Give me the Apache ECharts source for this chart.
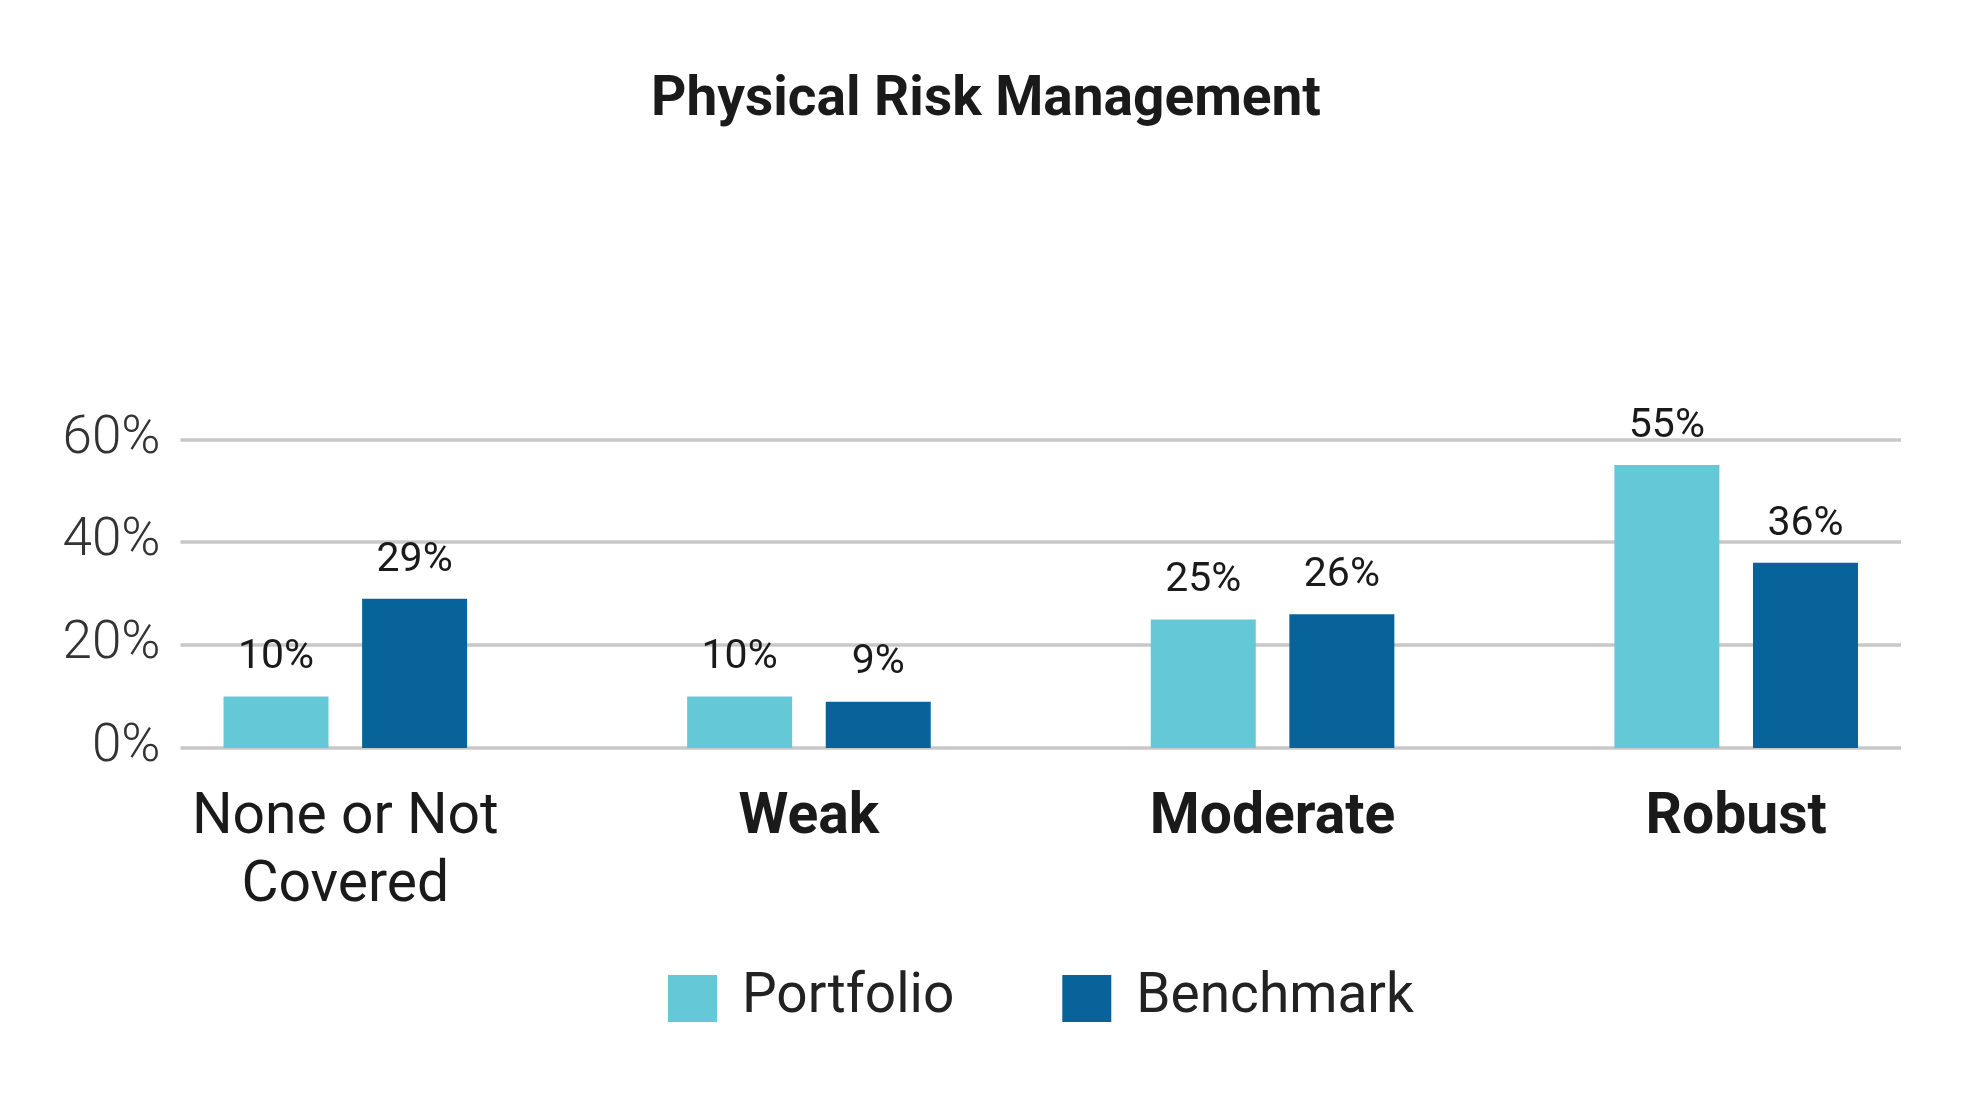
<!DOCTYPE html>
<html>
<head>
<meta charset="utf-8">
<script src="https://cdn.jsdelivr.net/npm/echarts@6/dist/echarts.min.js"></script>
<style>
html,body{margin:0;padding:0;background:#fff;}
#chart{width:1968px;height:1104px;}
</style>
</head>
<body>
<div id="chart"></div>
<script>
const titleText = 'Physical Risk Management';
const categories = ['None or Not\nCovered', 'Weak', 'Moderate', 'Robust'];
const seriesNames = ['Portfolio', 'Benchmark'];
const portfolio = [10, 10, 25, 55];
const benchmark = [29, 9, 26, 36];
const yTicks = [0, 20, 40, 60];

const colors = ['#64C8D6', '#08639B'];
const FONT = 'Roboto, "Noto Sans", sans-serif';

const chart = echarts.init(document.getElementById('chart'), null, {renderer: 'canvas'});

const labelStyle = {
  show: true,
  position: 'top',
  distance: 18,
  formatter: '{c}%',
  fontFamily: FONT,
  fontSize: 41,
  color: '#1a1a1a'
};

chart.setOption({
  backgroundColor: '#ffffff',
  animation: false,
  title: {
    text: titleText,
    left: 981,
    textAlign: 'center',
    top: 68,
    textStyle: {fontFamily: FONT, fontSize: 55, fontWeight: 700, color: '#1a1a1a', lineHeight: 56}
  },
  legend: {
    data: seriesNames,
    left: 663,
    top: 966,
    icon: 'rect',
    itemWidth: 49,
    itemHeight: 47,
    itemGap: 108,
    textStyle: {fontFamily: FONT, fontSize: 55, color: '#222', padding: [10, 0, 0, 20]}
  },
  grid: [
    {left: 113.5, top: 439.3, width: 1872, height: 308.7, containLabel: false},
    {left: 180.5, top: 439.3, width: 1720.5, height: 308.7, containLabel: false}
  ],
  xAxis: [
    {
      gridIndex: 0,
      type: 'category',
      data: categories,
      axisLine: {show: false},
      axisTick: {show: false},
      splitLine: {show: false},
      axisLabel: {
        margin: 37,
        interval: 0,
        formatter: function (v, i) {
          const key = i === 0 ? 'n' : 'b';
          return v.split('\n').map(function (s) { return '{' + key + '|' + s + '}'; }).join('\n');
        },
        rich: {
          n: {fontFamily: FONT, fontSize: 57, fontWeight: 400, color: '#1a1a1a', lineHeight: 68},
          b: {fontFamily: FONT, fontSize: 57, fontWeight: 700, color: '#1a1a1a', lineHeight: 68}
        }
      }
    },
    {gridIndex: 1, type: 'value', show: false, min: 0, max: 1}
  ],
  yAxis: [
    {gridIndex: 0, type: 'value', min: yTicks[0], max: yTicks[yTicks.length - 1], interval: 20, show: false},
    {
      gridIndex: 1,
      type: 'value',
      min: yTicks[0],
      max: yTicks[yTicks.length - 1],
      interval: 20,
      axisLine: {show: false},
      axisTick: {show: false},
      splitLine: {show: true, lineStyle: {color: '#c8c8c8', width: 3.5}},
      axisLabel: {
        margin: 20,
        formatter: '{value}%',
        fontFamily: FONT,
        fontSize: 53,
        fontWeight: 300,
        color: '#333'
      }
    }
  ],
  series: [
    {
      name: seriesNames[0],
      type: 'bar',
      xAxisIndex: 0,
      yAxisIndex: 0,
      data: portfolio,
      barWidth: 105,
      barGap: '32%',
      itemStyle: {color: colors[0]},
      label: labelStyle,
      z: 3
    },
    {
      name: seriesNames[1],
      type: 'bar',
      xAxisIndex: 0,
      yAxisIndex: 0,
      data: benchmark,
      barWidth: 105,
      barGap: '32%',
      itemStyle: {color: colors[1]},
      label: labelStyle,
      z: 3
    }
  ]
});
</script>
</body>
</html>
